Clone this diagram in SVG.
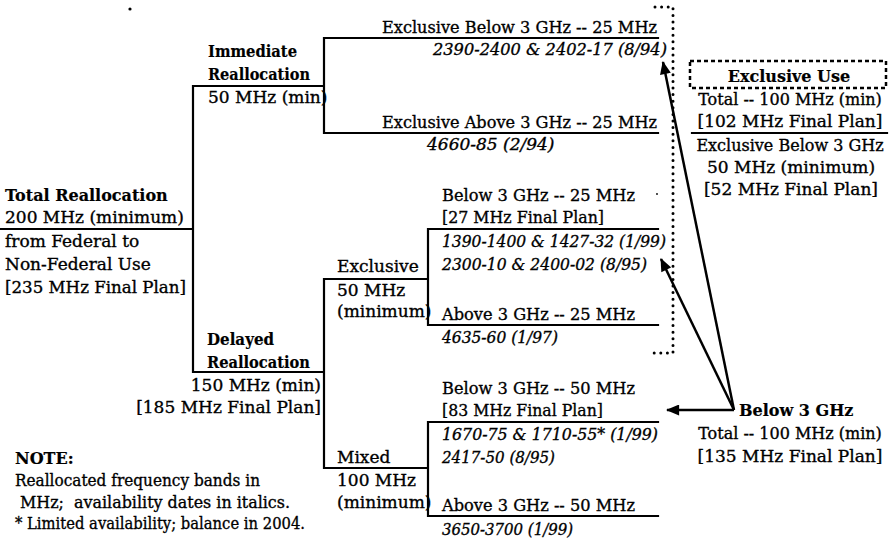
<svg xmlns="http://www.w3.org/2000/svg" width="889" height="541" viewBox="0 0 889 541">
<defs>
<style>
.t{font-family:"DejaVu Serif","Liberation Serif",serif;font-size:17px;fill:#000;stroke:#000;stroke-width:0.35}
.b{font-weight:bold;font-size:16px;stroke-width:0.2}
.i{font-style:italic}
.m{text-anchor:middle}
.e{text-anchor:end}
.s{font-size:16px}
.ln{fill:none;stroke:#000;stroke-width:2.2;stroke-linecap:square}
.dot{fill:none;stroke:#000;stroke-width:3;stroke-linecap:round;stroke-dasharray:0 6.6}
.dash{fill:none;stroke:#000;stroke-width:2.5;stroke-dasharray:4 3}
.ar{fill:none;stroke:#000;stroke-width:2.5}
</style>
<marker id="ah" viewBox="0 0 12 10" refX="11" refY="5" markerUnits="userSpaceOnUse" markerWidth="14" markerHeight="11" orient="auto">
<path d="M0,0 L12,5 L0,10 z" fill="#000"/>
</marker>
</defs>
<rect width="889" height="541" fill="#fff"/>
<circle cx="130" cy="9" r="1.6" fill="#000"/>
<circle cx="657" cy="194" r="0.9" fill="#000"/>

<g id="connectors">
<path class="ln" d="M0,229 H193 M193,86 V372 M193,86 H324 M324,38 V133 M324,38 H658 M324,133 H658 M193,372 H324 M324,279 V468 M324,279 H428 M324,468 H428 M428,229 V325 M428,229 H658 M428,325 H658 M428,422 V516 M428,422 H658 M428,516 H658"/>
<path class="dot" d="M655,7 H673 V353 H650"/>
<line class="ar" x1="734" y1="410" x2="663" y2="62" marker-end="url(#ah)"/>
<line class="ar" x1="734" y1="410" x2="661" y2="259" marker-end="url(#ah)"/>
<line class="ar" x1="734" y1="410" x2="667" y2="410" marker-end="url(#ah)"/>
</g>

<g id="node-total">
<text class="t b" x="5" y="201">Total Reallocation</text>
<text class="t" x="5" y="223">200 MHz (minimum)</text>
<text class="t" x="5" y="247">from Federal to</text>
<text class="t" x="5" y="270">Non-Federal Use</text>
<text class="t" x="5" y="293" textLength="181" lengthAdjust="spacingAndGlyphs">[235 MHz Final Plan]</text>
</g>

<g id="node-immediate">
<text class="t b" x="208" y="57" textLength="89" lengthAdjust="spacingAndGlyphs">Immediate</text>
<text class="t b" x="208" y="80" textLength="102" lengthAdjust="spacingAndGlyphs">Reallocation</text>
<text class="t" x="208" y="103">50 MHz (min)</text>
</g>

<g id="node-imm-below">
<text class="t" x="382" y="33" textLength="275" lengthAdjust="spacingAndGlyphs">Exclusive Below 3 GHz -- 25 MHz</text>
<text class="t i e" x="667" y="55" textLength="234" lengthAdjust="spacingAndGlyphs">2390-2400 &amp; 2402-17 (8/94)</text>
</g>

<g id="node-imm-above">
<text class="t" x="382" y="128" textLength="275" lengthAdjust="spacingAndGlyphs">Exclusive Above 3 GHz -- 25 MHz</text>
<text class="t i" x="427" y="150">4660-85 (2/94)</text>
</g>

<g id="node-delayed">
<text class="t b" x="207" y="345" textLength="67" lengthAdjust="spacingAndGlyphs">Delayed</text>
<text class="t b" x="207" y="368" textLength="103" lengthAdjust="spacingAndGlyphs">Reallocation</text>
<text class="t e" x="321" y="391">150 MHz (min)</text>
<text class="t e" x="321" y="413">[185 MHz Final Plan]</text>
</g>

<g id="node-exclusive">
<text class="t" x="337" y="272">Exclusive</text>
<text class="t" x="337" y="296">50 MHz</text>
<text class="t" x="337" y="317">(minimum)</text>
</g>

<g id="node-excl-below">
<text class="t" x="442" y="201" textLength="193" lengthAdjust="spacingAndGlyphs">Below 3 GHz -- 25 MHz</text>
<text class="t" x="442" y="223" textLength="162" lengthAdjust="spacingAndGlyphs">[27 MHz Final Plan]</text>
<text class="t i" x="442" y="247" textLength="224" lengthAdjust="spacingAndGlyphs">1390-1400 &amp; 1427-32 (1/99)</text>
<text class="t i" x="442" y="270" textLength="205" lengthAdjust="spacingAndGlyphs">2300-10 &amp; 2400-02 (8/95)</text>
</g>

<g id="node-excl-above">
<text class="t" x="442" y="320" textLength="193" lengthAdjust="spacingAndGlyphs">Above 3 GHz -- 25 MHz</text>
<text class="t i" x="442" y="343" textLength="116" lengthAdjust="spacingAndGlyphs">4635-60 (1/97)</text>
</g>

<g id="node-mixed">
<text class="t" x="337" y="463">Mixed</text>
<text class="t" x="337" y="486">100 MHz</text>
<text class="t" x="337" y="508">(minimum)</text>
</g>

<g id="node-mixed-below">
<text class="t" x="442" y="394" textLength="193" lengthAdjust="spacingAndGlyphs">Below 3 GHz -- 50 MHz</text>
<text class="t" x="442" y="416" textLength="161" lengthAdjust="spacingAndGlyphs">[83 MHz Final Plan]</text>
<text class="t i" x="442" y="440" textLength="216" lengthAdjust="spacingAndGlyphs">1670-75 &amp; 1710-55* (1/99)</text>
<text class="t i" x="442" y="463" textLength="113" lengthAdjust="spacingAndGlyphs">2417-50 (8/95)</text>
</g>

<g id="node-mixed-above">
<text class="t" x="442" y="511" textLength="193" lengthAdjust="spacingAndGlyphs">Above 3 GHz -- 50 MHz</text>
<text class="t i" x="442" y="535" textLength="131" lengthAdjust="spacingAndGlyphs">3650-3700 (1/99)</text>
</g>

<g id="node-note">
<text class="t b" x="15" y="464">NOTE:</text>
<text class="t" x="15" y="486" textLength="245" lengthAdjust="spacingAndGlyphs">Reallocated frequency bands in</text>
<text class="t" x="20" y="508" xml:space="preserve" textLength="270" lengthAdjust="spacingAndGlyphs">MHz;  availability dates in italics.</text>
<text class="t" x="15" y="529" textLength="290" lengthAdjust="spacingAndGlyphs">* Limited availability; balance in 2004.</text>
</g>

<g id="node-exclusive-use">
<rect class="dash" x="690" y="61" width="196" height="27"/>
<text class="t b m" x="789" y="82">Exclusive Use</text>
<text class="t m s" x="790" y="105">Total -- 100 MHz (min)</text>
<text class="t m" x="790" y="127">[102 MHz Final Plan]</text>
<path class="ln" d="M692,133 H887"/>
<text class="t m s" x="790" y="151">Exclusive Below 3 GHz</text>
<text class="t m" x="791" y="173">50 MHz (minimum)</text>
<text class="t m" x="791" y="195">[52 MHz Final Plan]</text>
</g>

<g id="node-below3">
<text class="t b" x="739" y="416">Below 3 GHz</text>
<text class="t m s" x="790" y="439">Total -- 100 MHz (min)</text>
<text class="t m" x="790" y="462">[135 MHz Final Plan]</text>
</g>
</svg>
